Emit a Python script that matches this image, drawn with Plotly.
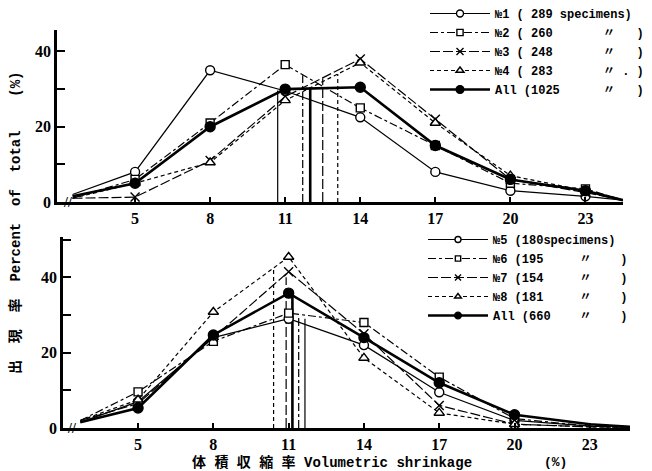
import plotly.graph_objects as go

# ---------------- data ----------------
x_top = [2.5, 5, 8, 11, 14, 17, 20, 23, 24.5]
no1 = [2, 8, 35, 29.5, 22.5, 8, 3, 1.5, 0.5]
no2 = [1, 6, 21, 36.5, 25, 15, 5, 3.5, 0.5]
no3 = [1, 1.3, 11, 28, 38, 22, 6, 2.5, 0.5]
no4 = [1, 5, 10.5, 27, 37, 21, 7, 3, 0.5]
all_top = [1.5, 5, 20, 30, 30.5, 15, 6, 3, 0.5]

x_bot = [2.7, 5, 8, 11, 14, 17, 20, 23, 24.6]
no5 = [1.5, 7, 24, 29, 22, 9.5, 2, 0.5, 0.3]
no6 = [2, 9.6, 23, 30.5, 28, 13.5, 2.5, 0.5, 0.3]
no7 = [2, 6.5, 24, 41.5, 25, 6, 1, 0.3, 0.2]
no8 = [2, 7.5, 30.8, 45.4, 18.6, 4, 1, 0.3, 0.2]
all_bot = [1.5, 5.3, 24.7, 35.8, 24, 12, 3.5, 1, 0.3]

# median lines (position, height)
med_x_top = [10.7, 11.7, 12.5, 13.1, 12.0]
med_h_top = [29.6, 33.7, 32.8, 34.0, 30.2]
med_x_bot = [11.65, 11.4, 10.9, 10.4, 11.15]
med_h_bot = [29.0, 29.5, 40.0, 42.5, 35.0]

x_ticks = [5, 8, 11, 14, 17, 20, 23]
NB = "\u00a0"
names_top = [
    "№1 ( 289 specimens)",
    "№2 ( 260" + NB * 7 + "〃" + NB * 3 + ")",
    "№3 ( 248" + NB * 7 + "〃" + NB * 3 + ")",
    "№4 ( 283" + NB * 7 + "〃" + NB + "." + NB + ")",
    "All (1025" + NB * 6 + "〃" + NB * 3 + ")",
]
names_bot = [
    "№5 (180specimens)",
    "№6 (195" + NB * 5 + "〃" + NB * 4 + ")",
    "№7 (154" + NB * 5 + "〃" + NB * 4 + ")",
    "№8 (181" + NB * 5 + "〃" + NB * 4 + ")",
    "All (660" + NB * 4 + "〃" + NB * 4 + ")",
]

# ---------------- styles ----------------
styles = [
    dict(dash="solid", width=1.2, symbol="circle", mcolor="white", size=9),
    dict(dash="8px,3px,3px,3px", width=1.2, symbol="square", mcolor="white", size=8),
    dict(dash="10px,3px", width=1.2, symbol="x-thin-open", mcolor="black", size=9),
    dict(dash="4px,3px", width=1.2, symbol="triangle-up", mcolor="white", size=9),
    dict(dash="solid", width=2.6, symbol="circle", mcolor="black", size=10),
]

fig = go.Figure()


def add_panel(xs, series, names, med_x, med_h, xa, ya, legend, hide_last_marker):
    # median vertical lines first (behind)
    for st, mx, mh in zip(styles, med_x, med_h):
        fig.add_trace(go.Scatter(
            x=[mx, mx], y=[0, mh], mode="lines", showlegend=False,
            line=dict(color="black", width=st["width"], dash=st["dash"]),
            xaxis=xa, yaxis=ya, hoverinfo="skip"))
    for st, ys, nm in zip(styles, series, names):
        sizes = [0] + [st["size"]] * (len(xs) - 2) + [0]
        if hide_last_marker:
            sizes[-2] = 0
        fig.add_trace(go.Scatter(
            x=xs, y=ys, mode="lines+markers", name=nm, legend=legend,
            line=dict(color="black", width=st["width"], dash=st["dash"]),
            marker=dict(symbol=st["symbol"], size=sizes, color=st["mcolor"], opacity=1,
                        line=dict(color="black", width=1.4)),
            xaxis=xa, yaxis=ya))


add_panel(x_top, [no1, no2, no3, no4, all_top], names_top, med_x_top, med_h_top,
          "x", "y", "legend", False)
add_panel(x_bot, [no5, no6, no7, no8, all_bot], names_bot, med_x_bot, med_h_bot,
          "x2", "y2", "legend2", True)

tickfont = dict(family="Liberation Serif", size=16, color="black", weight="bold")
axis_common = dict(showgrid=False, zeroline=False, showline=True, linecolor="black",
                   ticks="inside", tickcolor="black", automargin=False, linewidth=2.5,
                   tickfont=tickfont)
MONO = "Liberation Mono, Noto Sans CJK JP"
legfont = dict(family=MONO, size=12, color="black", weight="bold")

fig.update_layout(
    width=652, height=471, margin=dict(l=0, r=0, t=0, b=0, autoexpand=False),
    paper_bgcolor="white", plot_bgcolor="white",
    font=dict(family=MONO, color="black"),
    xaxis=dict(domain=[57 / 652, 623 / 652], range=[1.88, 24.5], anchor="y",
               tickvals=x_ticks, ticktext=[str(v) for v in x_ticks],
               ticklen=5, tickwidth=1.5, **axis_common),
    yaxis=dict(domain=[269 / 471, 441 / 471], range=[0, 45.7], anchor="x",
               tickvals=[0, 10, 20, 30, 40], ticktext=["0", "", "20", "", "40"],
               ticklen=8, tickwidth=2, **axis_common),
    xaxis2=dict(domain=[63 / 652, 630 / 652], range=[2.01, 24.6], anchor="y2",
                tickvals=x_ticks, ticktext=[str(v) for v in x_ticks],
                ticklen=5, tickwidth=1.5, **axis_common),
    yaxis2=dict(domain=[43 / 471, 234 / 471], range=[0, 50.7], anchor="x2",
                tickvals=[0, 10, 20, 30, 40, 50], ticktext=["0", "", "20", "", "40", ""],
                ticklen=8, tickwidth=2, **axis_common),
    legend=dict(x=425 / 652, y=1 + 1 / 471, xanchor="left", yanchor="top",
                bgcolor="rgba(0,0,0,0)", font=legfont, itemwidth=60, tracegroupgap=0),
    legend2=dict(x=423 / 652, y=1 - 225 / 471, xanchor="left", yanchor="top",
                 bgcolor="rgba(0,0,0,0)", font=legfont, itemwidth=60, tracegroupgap=0),
    annotations=[
        dict(text="出" + NB * 2 + "現" + NB * 2 + "率" + NB * 2 + "Percent" + NB * 2 + "of"
             + NB * 2 + "total" + NB * 4 + "(%)", textangle=-90,
             xref="paper", yref="paper", x=15 / 652, y=1 - 223 / 471,
             xanchor="center", yanchor="middle", showarrow=False,
             font=dict(size=14, family=MONO, weight="bold")),
        dict(text="体 積 収 縮 率 Volumetric shrinkage", xref="paper", yref="paper",
             x=332 / 652, y=9 / 471, xanchor="center", yanchor="middle", showarrow=False,
             font=dict(size=14, family=MONO, weight="bold")),
        dict(text="(%)", xref="paper", yref="paper", x=555 / 652, y=9 / 471,
             xanchor="center", yanchor="middle",
             showarrow=False, font=dict(size=13, family=MONO, weight="bold")),
        dict(text="<b>//</b>", xref="x", yref="y", x=2.3, y=0, showarrow=False,
             font=dict(size=14, family="Liberation Serif")),
        dict(text="<b>//</b>", xref="x2", yref="y2", x=2.35, y=0, showarrow=False,
             font=dict(size=14, family="Liberation Serif")),
    ],
)

fig.write_html("out.html", config={"displayModeBar": False},
               post_script="document.body.style.margin='0';")
